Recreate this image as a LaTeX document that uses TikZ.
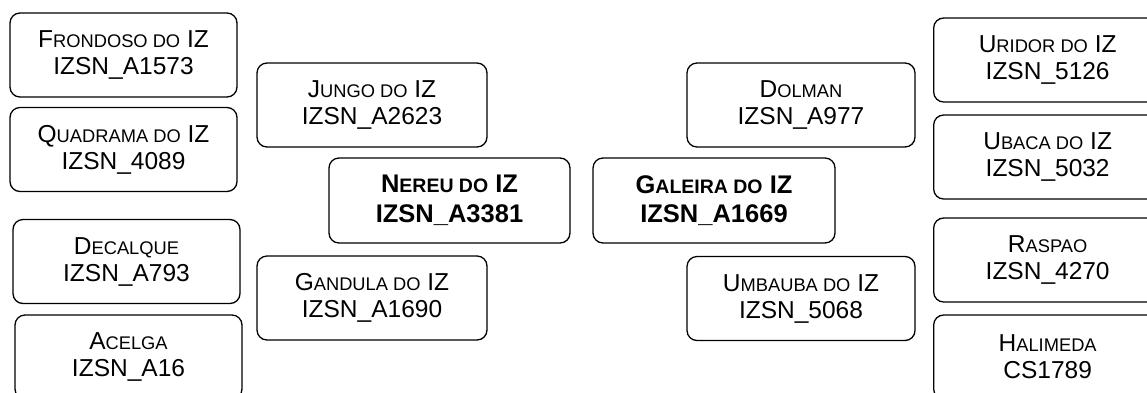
\documentclass[tikz,border=0pt]{standalone}
\usepackage{fontspec}
\setmainfont{Liberation Sans}
\newcommand\smc[1]{{\fontsize{18.3}{27}\selectfont #1}}
\newcommand\smcb[1]{{\fontsize{19.5}{29}\selectfont #1}}
\tikzset{
  box/.style={draw=black, line width=1.3pt, rounded corners=10pt, fill=white,
    minimum width=227pt, minimum height=84pt, align=center, inner sep=0pt,
    font=\fontsize{24.5}{27}\selectfont},
  mainbox/.style={box, minimum width=241pt, minimum height=85pt,
    font=\fontsize{25.5}{29.5}\selectfont\bfseries},
}
\begin{document}
\begin{tikzpicture}[x=1pt,y=-1pt]
\useasboundingbox (0,0) rectangle (1147,392);
\clip (0,0) rectangle (1147,392);
% left column
\node[box] (frondoso) at (123.5,55) {F\smc{RONDOSO DO} IZ\\IZSN\_A1573};
\node[box] (quadrama) at (123.5,149.5) {Q\smc{UADRAMA DO} IZ\\IZSN\_4089};
\node[box] (decalque) at (126.5,261.5) {D\smc{ECALQUE}\\IZSN\_A793};
\node[box, minimum height=84pt] (acelga) at (128.5,357) {A\smc{CELGA}\\IZSN\_A16};
% second column
\node[box, minimum width=230pt] (jungo) at (372,105) {J\smc{UNGO DO} IZ\\IZSN\_A2623};
\node[box, minimum width=230pt] (gandula) at (372,298) {G\smc{ANDULA DO} IZ\\IZSN\_A1690};
% centre
\node[mainbox] (nereu) at (449.5,200.5) {N\smcb{EREU DO} IZ\\IZSN\_A3381};
\node[mainbox, minimum width=242pt] (galeira) at (714,200.5) {G\smcb{ALEIRA DO} IZ\\IZSN\_A1669};
% fourth column
\node[box, minimum width=228pt] (dolman) at (801,105) {D\smc{OLMAN}\\IZSN\_A977};
\node[box, minimum width=228pt] (umbauba) at (801,298.5) {U\smc{MBAUBA DO} IZ\\IZSN\_5068};
% right column (cut by the page edge)
\node[box, minimum width=228pt, anchor=west] (uridor) at (933,60) {U\smc{RIDOR DO} IZ\\IZSN\_5126};
\node[box, minimum width=228pt, anchor=west] (ubaca) at (933,157) {U\smc{BACA DO} IZ\\IZSN\_5032};
\node[box, minimum width=228pt, anchor=west] (raspao) at (933,260) {R\smc{ASPAO}\\IZSN\_4270};
\node[box, minimum width=228pt, anchor=west] (halimeda) at (933,357) {H\smc{ALIMEDA}\\CS1789};
\end{tikzpicture}
\end{document}
